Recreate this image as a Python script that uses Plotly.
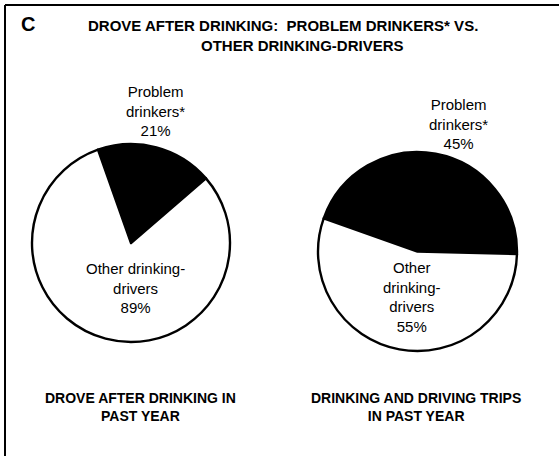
import plotly.graph_objects as go

# Shares of drinking-drivers (left) and of drinking-and-driving trips (right)
groups = ["Problem drinkers*", "Other drinking-drivers"]
drivers_pct = [21, 89]
trips_pct = [45, 55]
slice_colors = ["black", "white"]

W, H = 559, 456


def px_x(x):
    return x / W


def px_y(y):
    return 1 - y / H


fig = go.Figure()

# Left pie: drove after drinking in past year
fig.add_trace(go.Pie(
    labels=groups, values=drivers_pct, sort=False, direction="clockwise",
    rotation=-19.5, textinfo="none", hoverinfo="label+value",
    marker=dict(colors=slice_colors, line=dict(color="black", width=2.4)),
    domain=dict(x=[px_x(32), px_x(230)], y=[px_y(342), px_y(144)]),
    showlegend=False,
))

# Right pie: drinking and driving trips in past year
fig.add_trace(go.Pie(
    labels=groups, values=trips_pct, sort=False, direction="clockwise",
    rotation=-70.5, textinfo="none", hoverinfo="label+value",
    marker=dict(colors=slice_colors, line=dict(color="black", width=2.4)),
    domain=dict(x=[px_x(318), px_x(517)], y=[px_y(351), px_y(152)]),
    showlegend=False,
))

label_font = dict(family="Liberation Sans, Arial, sans-serif", size=15, color="black")
title_font = dict(family="Liberation Sans, Arial, sans-serif", size=15, color="black")
caption_font = dict(family="Liberation Sans, Arial, sans-serif", size=14, color="black")

annotations = [
    # panel letter and title
    dict(x=px_x(28), y=px_y(24), text="<b>C</b>",
         font=dict(family="Liberation Sans, Arial, sans-serif", size=20, color="black")),
    dict(x=px_x(283), y=px_y(25),
         text="<b>DROVE AFTER DRINKING:\u00a0 PROBLEM DRINKERS* VS.</b>", font=title_font),
    dict(x=px_x(302), y=px_y(46), text="<b>OTHER DRINKING-DRIVERS</b>", font=title_font),
    # slice labels, left pie
    dict(x=px_x(155), y=px_y(111),
         text=f"Problem<br>drinkers*<br>{drivers_pct[0]}%", font=label_font),
    dict(x=px_x(135), y=px_y(288),
         text=f"Other drinking-<br>drivers<br>{drivers_pct[1]}%", font=label_font),
    # slice labels, right pie
    dict(x=px_x(458), y=px_y(124),
         text=f"Problem<br>drinkers*<br>{trips_pct[0]}%", font=label_font),
    dict(x=px_x(412), y=px_y(297),
         text=f"Other<br>drinking-<br>drivers<br>{trips_pct[1]}%", font=label_font),
    # captions under the pies
    dict(x=px_x(140), y=px_y(407), text="<b>DROVE AFTER DRINKING IN<br>PAST YEAR</b>",
         font=caption_font),
    dict(x=px_x(416), y=px_y(407), text="<b>DRINKING AND DRIVING TRIPS<br>IN PAST YEAR</b>",
         font=caption_font),
]
for a in annotations:
    a.update(xref="paper", yref="paper", showarrow=False,
             xanchor="center", yanchor="middle", align="center")

# frame: left and top rules
shapes = [
    dict(type="line", xref="paper", yref="paper",
         x0=px_x(5), x1=px_x(5), y0=px_y(5), y1=0,
         line=dict(color="black", width=2)),
    dict(type="line", xref="paper", yref="paper",
         x0=px_x(5), x1=1, y0=px_y(5), y1=px_y(5),
         line=dict(color="black", width=2)),
]

fig.update_layout(
    width=W, height=H,
    margin=dict(l=0, r=0, t=0, b=0),
    paper_bgcolor="white", plot_bgcolor="white",
    annotations=annotations, shapes=shapes,
)

fig.write_html("out.html", config=dict(displayModeBar=False))
